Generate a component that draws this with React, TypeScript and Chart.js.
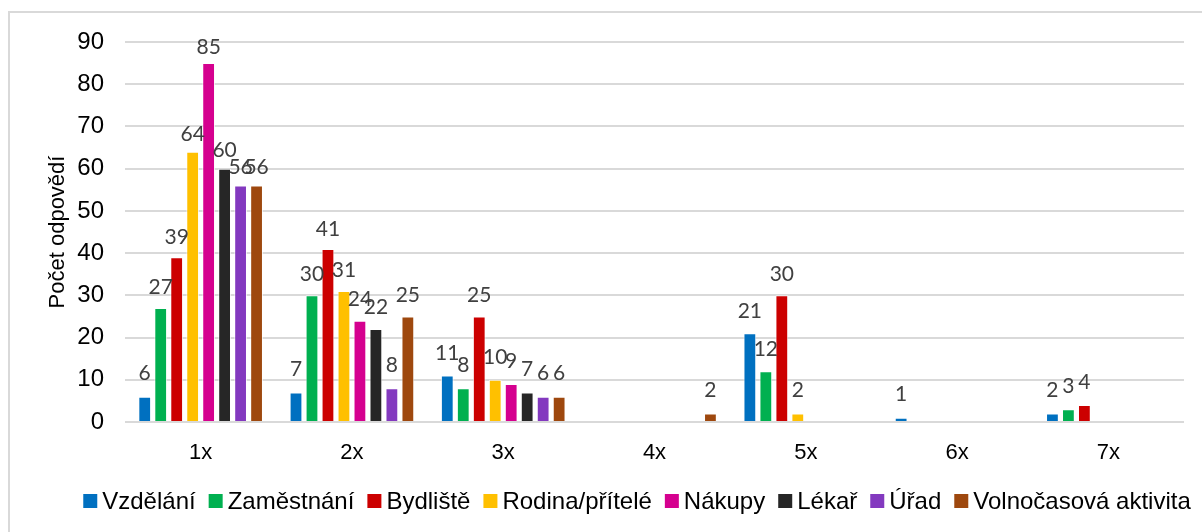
import React, { useEffect, useRef } from "react";
import { Chart, registerables } from "chart.js";

Chart.register(...registerables);

const categories = ["1x", "2x", "3x", "4x", "5x", "6x", "7x"];
const seriesNames = [
  "Vzdělání",
  "Zaměstnání",
  "Bydliště",
  "Rodina/přítelé",
  "Nákupy",
  "Lékař",
  "Úřad",
  "Volnočasová aktivita",
];
const vzdelani = [6, 7, 11, null, 21, 1, 2];
const zamestnani = [27, 30, 8, null, 12, null, 3];
const bydliste = [39, 41, 25, null, 30, null, 4];
const rodina = [64, 31, 10, null, 2, null, null];
const nakupy = [85, 24, 9, null, null, null, null];
const lekar = [60, 22, 7, null, null, null, null];
const urad = [56, 8, 6, null, null, null, null];
const volnocas = [56, 25, 6, 2, null, null, null];
const seriesValues = [vzdelani, zamestnani, bydliste, rodina, nakupy, lekar, urad, volnocas];
const seriesColors = [
  "#0070C0",
  "#00B050",
  "#CC0000",
  "#FFC000",
  "#D5008F",
  "#262626",
  "#8339BF",
  "#9E480E",
];
const yMin = 0;
const yMax = 90;
const yStep = 10;
const yTitle = "Počet odpovědí";

const FONT = "'Liberation Sans', Arial, sans-serif";
const LABEL_FONT = "Lato, 'Liberation Sans', sans-serif";

const frameAndLabels = {
  id: "frameAndLabels",
  beforeDraw(chart: any) {
    const ctx = chart.ctx;
    ctx.save();
    ctx.fillStyle = "#ffffff";
    ctx.fillRect(0, 0, chart.width, chart.height);
    ctx.strokeStyle = "#d9d9d9";
    ctx.lineWidth = 2;
    ctx.strokeRect(9, 12, chart.width + 20, chart.height + 20);
    ctx.restore();
  },
  afterDatasetsDraw(chart: any) {
    const ctx = chart.ctx;
    ctx.save();
    ctx.font = `21px ${LABEL_FONT}`;
    ctx.fillStyle = "#404040";
    ctx.textAlign = "center";
    ctx.textBaseline = "middle";
    chart.data.datasets.forEach((ds: any, i: number) => {
      const meta = chart.getDatasetMeta(i);
      meta.data.forEach((el: any, j: number) => {
        const v = ds.data[j];
        if (v === null || v === undefined) return;
        const off = 23.5 - 0.09 * v;
        ctx.fillText(String(v), el.x, el.y - off);
      });
    });
    ctx.restore();
  },
  afterDraw(chart: any) {
    const ctx = chart.ctx;
    ctx.save();
    ctx.font = `24px ${FONT}`;
    ctx.textBaseline = "middle";
    ctx.textAlign = "left";
    const box = 14;
    const gapBoxText = 5;
    const gapItems = 13;
    const items = chart.data.datasets.map((ds: any) => ({
      label: ds.label,
      color: ds.backgroundColor,
      w: box + gapBoxText + ctx.measureText(ds.label).width,
    }));
    const total =
      items.reduce((a: number, it: any) => a + it.w, 0) + gapItems * (items.length - 1);
    const cx = 637;
    const cy = 501;
    let x = cx - total / 2;
    items.forEach((it: any) => {
      ctx.fillStyle = it.color;
      ctx.fillRect(x, cy - box / 2, box, box);
      ctx.fillStyle = "#000000";
      ctx.fillText(it.label, x + box + gapBoxText, cy + 1);
      x += it.w + gapItems;
    });
    ctx.restore();
  },
};

export default function App() {
  const ref = useRef<HTMLCanvasElement | null>(null);

  useEffect(() => {
    if (!ref.current) return;
    const chart = new Chart(ref.current, {
      type: "bar",
      data: {
        labels: categories,
        datasets: seriesNames.map((name, i) => ({
          label: name,
          data: seriesValues[i],
          backgroundColor: seriesColors[i],
          borderColor: "rgba(255,255,255,0.7)",
          borderWidth: 1,
          barPercentage: 0.8,
          categoryPercentage: 0.845,
        })),
      },
      options: {
        responsive: false,
        animation: false,
        devicePixelRatio: 1,
        layout: { padding: { top: 42, right: 18, left: 0, bottom: 0 } },
        plugins: {
          legend: { display: false },
          tooltip: { enabled: false },
        },
        scales: {
          x: {
            grid: { display: false },
            border: { display: false },
            ticks: {
              color: "#000000",
              font: { family: FONT, size: 22 },
              padding: 10,
            },
            afterFit: (s: any) => {
              s.height = 110;
            },
          },
          y: {
            min: yMin,
            max: yMax,
            grid: {
              color: "#d9d9d9",
              lineWidth: 2,
              drawTicks: false,
            },
            border: { display: false },
            ticks: {
              stepSize: yStep,
              color: "#000000",
              font: { family: FONT, size: 24 },
              padding: 21,
            },
            title: {
              display: true,
              text: yTitle,
              color: "#000000",
              font: { family: FONT, size: 22 },
              padding: { top: 45, bottom: 0 },
            },
            afterFit: (s: any) => {
              s.width = 125;
            },
          },
        },
      },
      plugins: [frameAndLabels],
    });
    return () => chart.destroy();
  }, []);

  return (
    <div style={{ position: "fixed", left: 0, top: 0, width: 1202, height: 532 }}>
      <canvas ref={ref} width={1202} height={532} />
    </div>
  );
}
